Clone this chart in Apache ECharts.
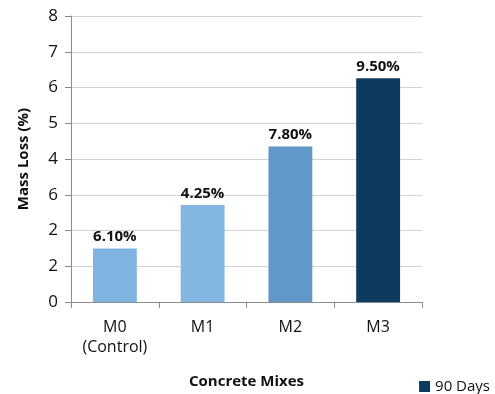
<!DOCTYPE html>
<html>
<head>
<meta charset="utf-8">
<script src="https://cdn.jsdelivr.net/npm/echarts@6/dist/echarts.min.js"></script>
<style>
  html, body { margin: 0; padding: 0; background: #ffffff; }
  #chart { width: 495px; height: 394px; }
</style>
</head>
<body>
<div id="chart"></div>
<script>
// Mass loss of concrete mixes after 90 days
const mixes = ['M0\n(Control)', 'M1', 'M2', 'M3'];
const massLoss = [1.5, 2.71, 4.35, 6.26];
const valueLabels = ['6.10%', '4.25%', '7.80%', '9.50%'];
const barColors = ['#7fb4e1', '#83b7e2', '#6198c8', '#0f3a5f'];
const yTickLabels = ['0', '2', '2', '6', '4', '5', '6', '7', '8'];
const seriesName = '90 Days';

const chart = echarts.init(document.getElementById('chart'), null, { renderer: 'canvas' });

chart.setOption({
  animation: false,
  backgroundColor: '#ffffff',
  grid: { left: 71, right: 73, top: 16, bottom: 89, containLabel: false },
  legend: {
    data: [seriesName],
    right: 0,
    top: 374,
    itemWidth: 11,
    itemHeight: 11,
    icon: 'rect',
    itemGap: 4,
    textStyle: { fontFamily: 'Open Sans', fontSize: 15, color: '#111' }
  },
  xAxis: {
    type: 'category',
    data: mixes,
    name: 'Concrete Mixes',
    nameLocation: 'middle',
    nameGap: 72,
    nameTextStyle: { fontFamily: 'Open Sans', fontSize: 15, fontWeight: 'bold', color: '#111' },
    axisLine: { lineStyle: { color: '#8a8a8a', width: 1 } },
    axisTick: { show: true, length: 6, lineStyle: { color: '#8a8a8a' } },
    axisLabel: { fontFamily: 'Open Sans', fontSize: 16, color: '#111', margin: 15, lineHeight: 20 }
  },
  yAxis: {
    type: 'value',
    min: 0,
    max: 8,
    interval: 1,
    name: 'Mass Loss (%)',
    nameLocation: 'middle',
    nameGap: 40,
    nameTextStyle: { fontFamily: 'Open Sans', fontSize: 15, fontWeight: 'bold', color: '#111' },
    axisLine: { show: true, lineStyle: { color: '#8a8a8a', width: 1 } },
    axisTick: { show: true, length: 6, lineStyle: { color: '#8a8a8a' } },
    axisLabel: {
      fontFamily: 'Open Sans', fontSize: 17, color: '#111', margin: 13,
      formatter: function (v) { return yTickLabels[Math.round(v)]; }
    },
    splitLine: { lineStyle: { color: '#d2d2d2', width: 1 } }
  },
  series: [{
    name: seriesName,
    type: 'bar',
    barWidth: '50%',
    itemStyle: { color: barColors[3] },
    data: massLoss.map(function (v, i) {
      return { value: v, itemStyle: { color: barColors[i] } };
    }),
    label: {
      show: true,
      position: 'top',
      distance: 4,
      fontFamily: 'Open Sans',
      fontSize: 15,
      fontWeight: 'bold',
      color: '#111',
      formatter: function (p) { return valueLabels[p.dataIndex]; }
    }
  }]
});
</script>
</body>
</html>
